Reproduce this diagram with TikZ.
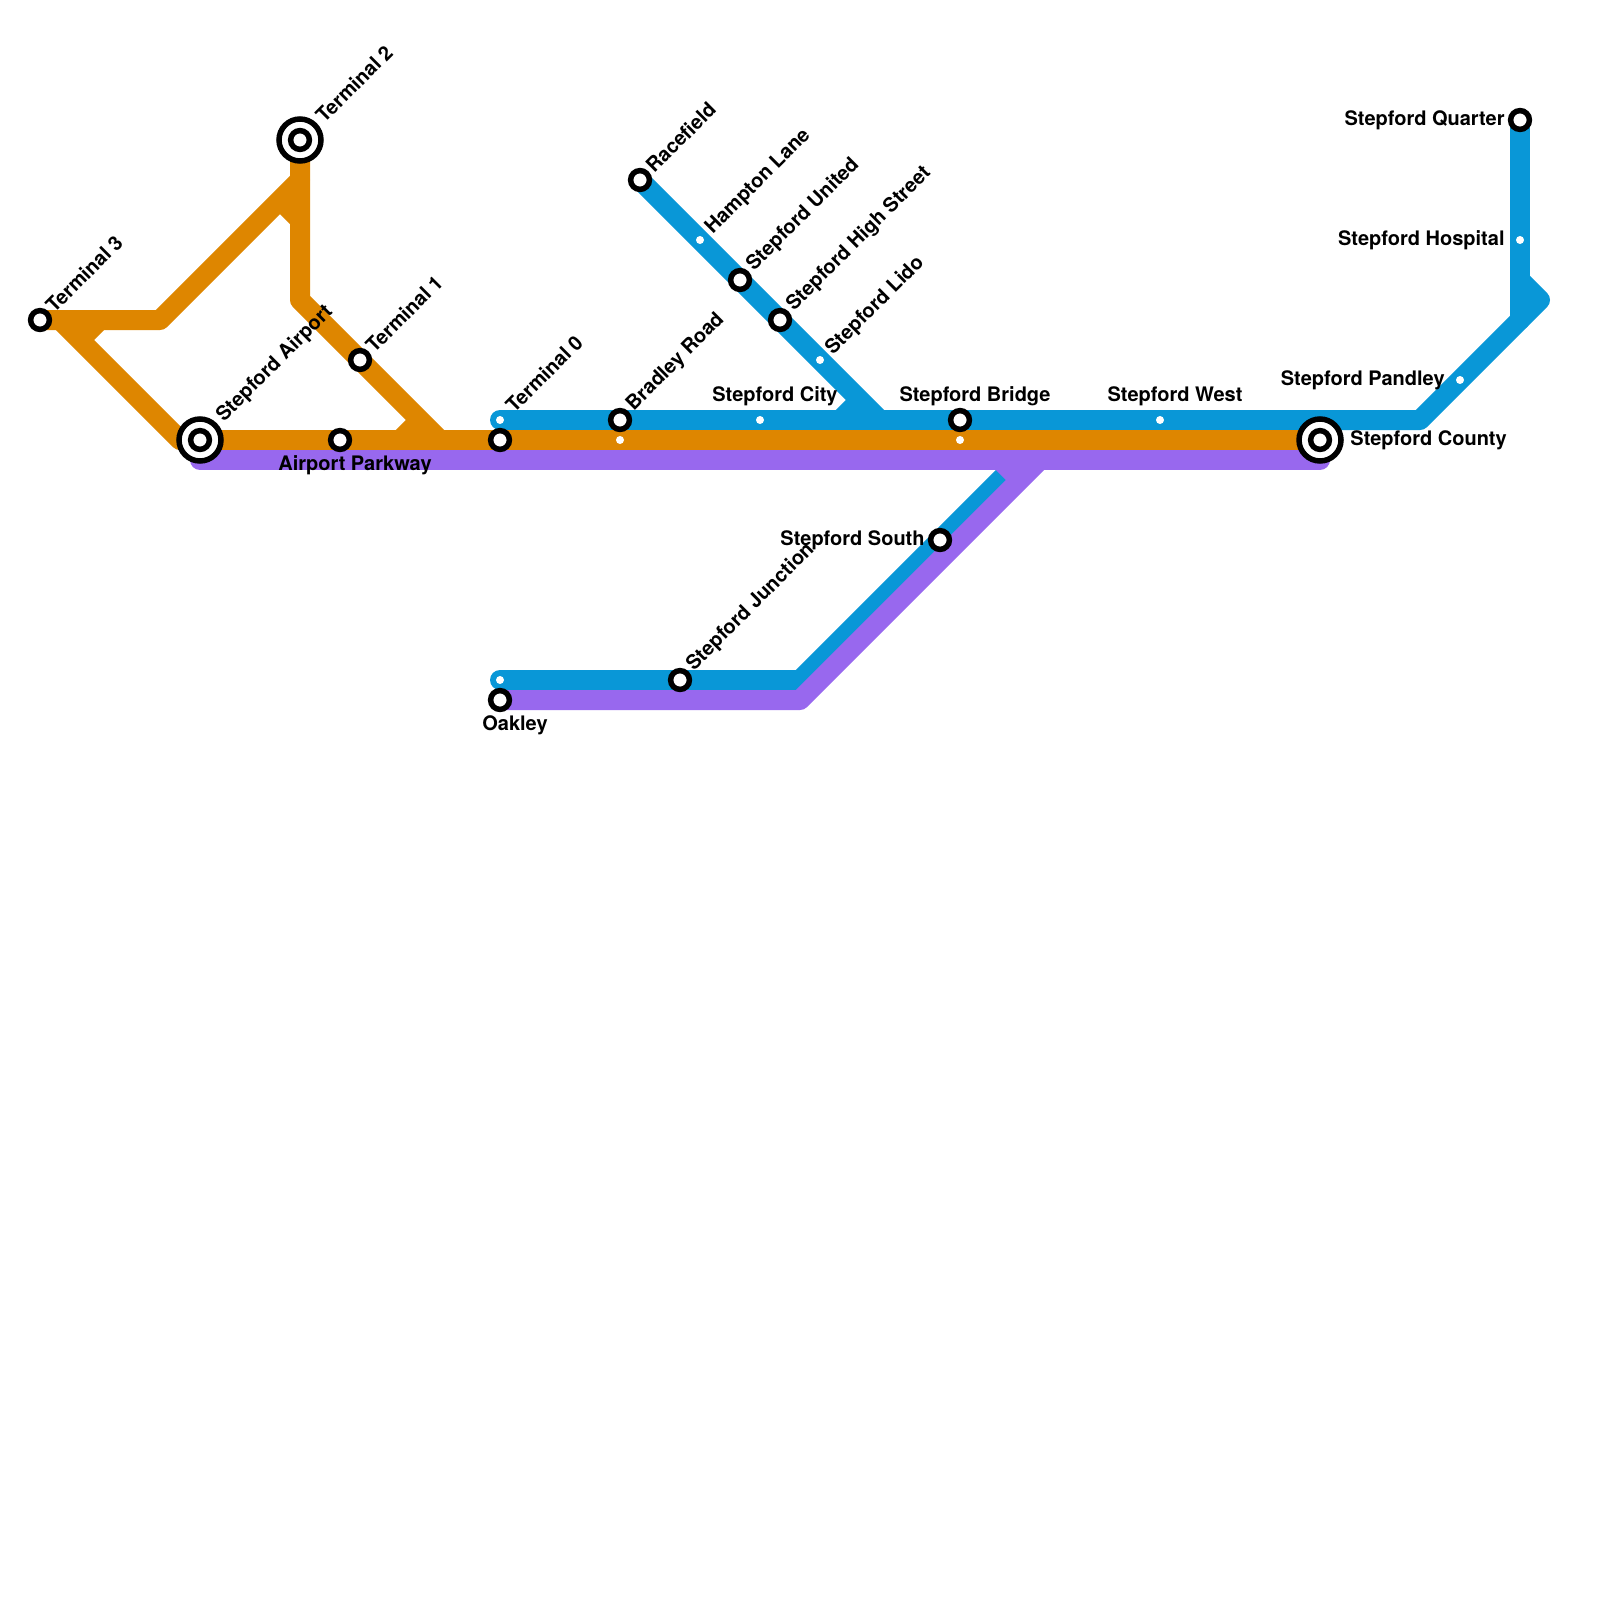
\documentclass[tikz,border=0pt]{standalone}
\usepackage{fontspec}
\setmainfont{TeX Gyre Heros}
\usetikzlibrary{backgrounds}
\definecolor{blueline}{HTML}{0997D7}
\definecolor{orangeline}{HTML}{DE8600}
\definecolor{purpleline}{HTML}{9868EE}
\tikzset{
  ring/.style={circle,draw=black,fill=white,line width=2.75pt,minimum size=9.4pt,inner sep=0pt},
  bigring/.style={circle,draw=black,fill=white,line width=2.75pt,minimum size=21pt,inner sep=0pt},
  halt/.style={circle,fill=white,minimum size=4pt,inner sep=0pt},
  route/.style={line width=10pt,line cap=round,line join=round},
  stub/.style={line width=10pt,line cap=butt},
  lab/.style={font=\bfseries\fontsize{10pt}{12pt}\selectfont,inner sep=0pt,text=black},
  dlab/.style={lab,rotate=45,anchor=west}
}
\begin{document}
\begin{tikzpicture}[x=0.5pt,y=-0.5pt]
\useasboundingbox (0,0) rectangle (1600,1600);
\node[ring] (term3) at (40,320) {};
\node[bigring] (term2out) at (300,140) {};
\node[ring] (term2) at (300,140) {};
\node[bigring] (airportout) at (200,440) {};
\node[ring] (airport) at (200,440) {};
\node[ring] (parkway) at (340,440) {};
\node[ring] (term1) at (360,360) {};
\node[ring] (term0) at (500,440) {};
\node[halt] (term0b) at (500,420) {};
\node[ring] (bradley) at (620,420) {};
\node[halt] (bradleyo) at (620,440) {};
\node[ring] (racefield) at (640,180) {};
\node[halt] (hampton) at (700,240) {};
\node[ring] (united) at (740,280) {};
\node[ring] (highst) at (780,320) {};
\node[halt] (lido) at (820,360) {};
\node[halt] (city) at (760,420) {};
\node[ring] (bridge) at (960,420) {};
\node[halt] (bridgeo) at (960,440) {};
\node[halt] (west) at (1160,420) {};
\node[ring] (south) at (940,540) {};
\node[ring] (junction) at (680,680) {};
\node[halt] (oakleyb) at (500,680) {};
\node[ring] (oakley) at (500,700) {};
\node[bigring] (countyout) at (1320,440) {};
\node[ring] (county) at (1320,440) {};
\node[halt] (pandley) at (1460,380) {};
\node[halt] (hospital) at (1520,240) {};
\node[ring] (quarter) at (1520,120) {};
\coordinate (obend1) at (160,320);
\coordinate (obend2) at (300,180);
\coordinate (obend3) at (60,320);
\coordinate (obend4) at (180,440);
\coordinate (obend5) at (300,300);
\coordinate (obend6) at (440,440);
\coordinate (bbend1) at (880,420);
\coordinate (bbend2) at (1420,420);
\coordinate (bbend3) at (1540,300);
\coordinate (bbend4) at (1520,280);
\coordinate (bbend5) at (1520,320);
\coordinate (bbend6) at (800,680);
\coordinate (bbend7) at (1040,440);
\coordinate (pbend1) at (200,460);
\coordinate (pbend2) at (1320,460);
\coordinate (pbend3) at (800,700);
\coordinate (pbend4) at (1040,460);
\begin{pgfonlayer}{background}
\draw[route,blueline] (term0b.center) -- (bbend2) -- (bbend3) -- (bbend4);
\draw[route,blueline] (quarter.center) -- (bbend5);
\draw[route,blueline] (racefield.center) -- (bbend1);
\draw[stub,blueline] (840,420) -- (860,400);
\draw[route,blueline] (oakleyb.center) -- (bbend6) -- (bbend7);
\draw[route,orangeline] (term3.center) -- (obend1) -- (obend2);
\draw[route,orangeline] (term2.center) -- (obend5) -- (obend6);
\draw[route,orangeline] (obend3) -- (obend4) -- (county.center);
\draw[stub,orangeline] (80,340) -- (100,320);
\draw[stub,orangeline] (280,200) -- (300,220);
\draw[stub,orangeline] (400,440) -- (420,420);
\draw[route,purpleline] (pbend1) -- (pbend2);
\draw[route,purpleline] (oakley.center) -- (pbend3) -- (pbend4);
\draw[stub,purpleline] (1000,460) -- (1020,480);
\end{pgfonlayer}
\node[dlab] (lterm3) at (49,309) {Terminal 3};
\node[dlab] (lterm2) at (319,119) {Terminal 2};
\node[dlab] (lairport) at (220,419) {Stepford Airport};
\node[dlab] (lterm1) at (369,349) {Terminal 1};
\node[dlab] (lterm0) at (509,409) {Terminal 0};
\node[dlab] (lbradley) at (630,408) {Bradley Road};
\node[dlab] (lracefield) at (649,169) {Racefield};
\node[dlab] (lhampton) at (709,231) {Hampton Lane};
\node[dlab] (lunited) at (750,268) {Stepford United};
\node[dlab] (lhighst) at (790,308) {Stepford High Street};
\node[dlab] (llido) at (829,352) {Stepford Lido};
\node[dlab] (ljunction) at (690,668) {Stepford Junction};
\node[lab] (lparkway) at (355,465) {Airport Parkway};
\node[lab,anchor=east] (lcity) at (838,396) {Stepford City};
\node[lab] (lbridge) at (975,396) {Stepford Bridge};
\node[lab] (lwest) at (1175,396) {Stepford West};
\node[lab,anchor=east] (lsouth) at (925,540) {Stepford South};
\node[lab] (loakley) at (515,725) {Oakley};
\node[lab,anchor=west] (lcounty) at (1350,440) {Stepford County};
\node[lab,anchor=east] (lpandley) at (1445,380) {Stepford Pandley};
\node[lab,anchor=east] (lhospital) at (1505,240) {Stepford Hospital};
\node[lab,anchor=east] (lquarter) at (1505,120) {Stepford Quarter};
\end{tikzpicture}
\end{document}
